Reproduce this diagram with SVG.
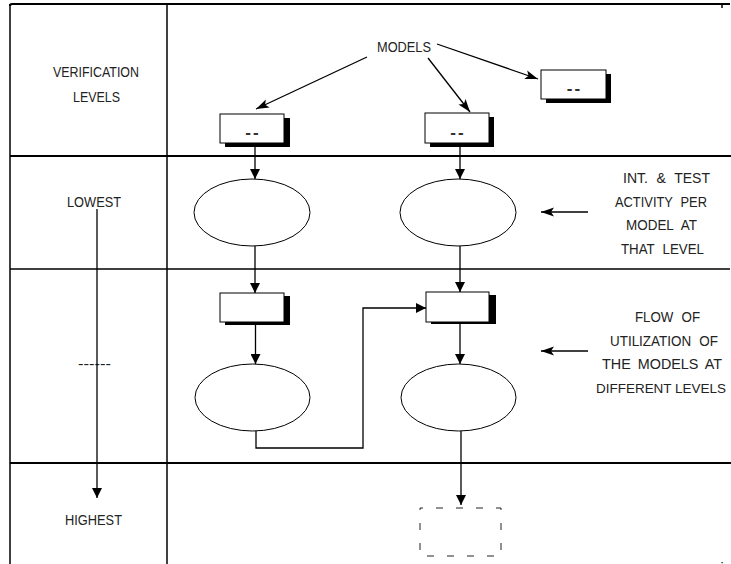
<svg xmlns="http://www.w3.org/2000/svg" width="731" height="564" viewBox="0 0 731 564">
<style>
  text { font-family: "Liberation Sans", Arial, sans-serif; font-size: 15px; fill: #222; }
  .c { text-anchor: middle; }
  .sm { font-size: 14px; }
  .xs { font-size: 13.5px; }
  .frame { stroke: #000; fill: none; stroke-width: 1.5; }
  .thick { stroke-width: 2.2; }
  .box { fill: #fff; stroke: #000; stroke-width: 1; }
  .shadow { fill: #000; }
  .ell { fill: #fff; stroke: #000; stroke-width: 1; }
  .conn { stroke: #000; stroke-width: 1.3; fill: none; }
  .dash { font-weight: bold; font-size: 17px; fill: #333; letter-spacing: 2px; }
</style>
<defs>
  <marker id="tri" markerUnits="userSpaceOnUse" markerWidth="10" markerHeight="10" refX="10" refY="5" orient="auto">
    <path d="M0,0 L10,5 L0,10 z" fill="#000"/>
  </marker>
  <marker id="barb" markerUnits="userSpaceOnUse" markerWidth="14" markerHeight="10" refX="13" refY="5" orient="auto">
    <path d="M0,0.5 L13,5 L0,9.5 L3,5 z" fill="#000"/>
  </marker>
</defs>

<g id="frame">
  <path class="frame thick" d="M10,6 Q10,4 12,4 L730,4"/>
  <line class="frame" x1="10" y1="4" x2="10" y2="564"/>
  <line class="frame" x1="167" y1="4" x2="167" y2="564"/>
  <line class="frame thick" x1="10" y1="156" x2="731" y2="156"/>
  <line class="frame" x1="10" y1="269" x2="730" y2="269"/>
  <line class="frame thick" x1="10" y1="463" x2="731" y2="463"/>
  <line class="frame" x1="722" y1="4" x2="722" y2="8" stroke-width="1"/>
  <rect x="721.5" y="562" width="1.2" height="1.2" fill="#000"/>
</g>

<g id="labels-left">
  <text class="c" x="96" y="77" textLength="86" lengthAdjust="spacingAndGlyphs">VERIFICATION</text>
  <text class="c" x="96.5" y="102" textLength="47" lengthAdjust="spacingAndGlyphs">LEVELS</text>
  <text class="c" x="94" y="207" textLength="54" lengthAdjust="spacingAndGlyphs">LOWEST</text>
  <text class="c" x="94.5" y="369" textLength="33" lengthAdjust="spacingAndGlyphs">------</text>
  <text class="c" x="93.5" y="525" textLength="57" lengthAdjust="spacingAndGlyphs">HIGHEST</text>
</g>

<g id="models">
  <text class="c" x="404" y="52" textLength="54" lengthAdjust="spacingAndGlyphs">MODELS</text>
</g>

<g id="box-top-right">
  <rect class="shadow" x="546" y="74" width="65" height="29"/>
  <rect class="box" x="541" y="70" width="65" height="29"/>
  <text class="c dash" x="574.5" y="94">--</text>
</g>
<g id="box-top-left">
  <rect class="shadow" x="225" y="118" width="65" height="29"/>
  <rect class="box" x="220" y="114" width="64" height="29"/>
  <text class="c dash" x="253" y="138">--</text>
</g>
<g id="box-top-mid">
  <rect class="shadow" x="430" y="117" width="64" height="30"/>
  <rect class="box" x="425" y="113" width="64" height="30"/>
  <text class="c dash" x="458" y="138">--</text>
</g>

<g id="ellipse-l1"><ellipse class="ell" cx="252" cy="212.5" rx="58" ry="33.5"/></g>
<g id="ellipse-r1"><ellipse class="ell" cx="458" cy="212.5" rx="58" ry="33.5"/></g>

<g id="box-l2">
  <rect class="shadow" x="225" y="296" width="65" height="29"/>
  <rect class="box" x="220" y="293" width="64" height="29"/>
</g>
<g id="box-r2">
  <rect class="shadow" x="431" y="295" width="65" height="29"/>
  <rect class="box" x="426" y="292" width="63" height="30"/>
</g>

<g id="ellipse-l2"><ellipse class="ell" cx="252.5" cy="397.5" rx="57.5" ry="33.5"/></g>
<g id="ellipse-r2"><ellipse class="ell" cx="458.5" cy="397.5" rx="57.5" ry="33.5"/></g>

<g id="box-dashed">
  <rect x="420" y="508" width="81" height="48" fill="none" stroke="#222" stroke-width="1" stroke-dasharray="7,13" stroke-dashoffset="4"/>
</g>

<g id="notes">
  <text class="c" x="666.5" y="183" style="word-spacing:5px" textLength="87" lengthAdjust="spacingAndGlyphs">INT. &amp; TEST</text>
  <text class="c" x="661" y="207" style="word-spacing:5px" textLength="92" lengthAdjust="spacingAndGlyphs">ACTIVITY PER</text>
  <text class="c" x="661.5" y="230" style="word-spacing:5px" textLength="71" lengthAdjust="spacingAndGlyphs">MODEL AT</text>
  <text class="c" x="662.5" y="254" style="word-spacing:5px" textLength="83" lengthAdjust="spacingAndGlyphs">THAT LEVEL</text>
  <text class="c" x="667.5" y="322" style="word-spacing:5px" textLength="65" lengthAdjust="spacingAndGlyphs">FLOW OF</text>
  <text class="c" x="664" y="346" style="word-spacing:5px" textLength="108" lengthAdjust="spacingAndGlyphs">UTILIZATION OF</text>
  <text class="c sm" x="662" y="369" style="word-spacing:3px" textLength="120" lengthAdjust="spacingAndGlyphs">THE MODELS AT</text>
  <text class="c xs" x="661" y="393" textLength="130" lengthAdjust="spacingAndGlyphs">DIFFERENT LEVELS</text>
</g>

<g id="connectors">
  <line class="conn" x1="367" y1="57" x2="256" y2="109" marker-end="url(#barb)"/>
  <line class="conn" x1="428" y1="58" x2="470" y2="112" marker-end="url(#barb)"/>
  <line class="conn" x1="437" y1="44" x2="538" y2="79" marker-end="url(#barb)"/>
  <line class="conn" x1="255" y1="143" x2="255" y2="179" marker-end="url(#tri)"/>
  <line class="conn" x1="460" y1="143" x2="460" y2="179" marker-end="url(#tri)"/>
  <line class="conn" x1="255" y1="246" x2="255" y2="293" marker-end="url(#tri)"/>
  <line class="conn" x1="460" y1="246" x2="460" y2="292" marker-end="url(#tri)"/>
  <line class="conn" x1="255.5" y1="322" x2="255.5" y2="364" marker-end="url(#tri)"/>
  <line class="conn" x1="460" y1="322" x2="460" y2="364" marker-end="url(#tri)"/>
  <polyline class="conn" points="256,431 256,448 363,448 363,308 426,308" marker-end="url(#tri)"/>
  <line class="conn" x1="461" y1="431" x2="461" y2="505" marker-end="url(#tri)"/>
  <line class="conn" x1="97" y1="209" x2="97" y2="498" marker-end="url(#tri)"/>
  <line class="conn" x1="588" y1="212" x2="541" y2="212" marker-end="url(#barb)"/>
  <line class="conn" x1="588" y1="351" x2="541" y2="351" marker-end="url(#barb)"/>
</g>
</svg>
